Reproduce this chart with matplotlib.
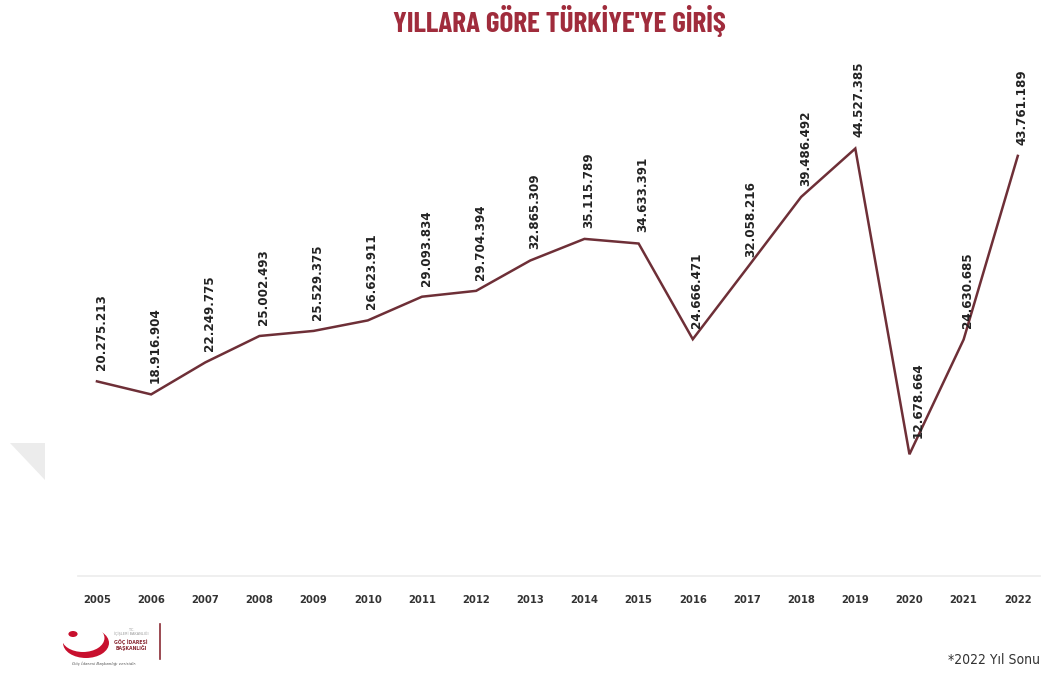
import matplotlib.pyplot as plt
from matplotlib.patches import Polygon, Circle

yillar = ['2005', '2006', '2007', '2008', '2009', '2010', '2011', '2012', '2013',
          '2014', '2015', '2016', '2017', '2018', '2019', '2020', '2021', '2022']
girisler = [20275213, 18916904, 22249775, 25002493, 25529375, 26623911, 29093834,
            29704394, 32865309, 35115789, 34633391, 24666471, 32058216, 39486492,
            44527385, 12678664, 24630685, 43761189]
etiketler = ['20.275.213', '18.916.904', '22.249.775', '25.002.493', '25.529.375',
             '26.623.911', '29.093.834', '29.704.394', '32.865.309', '35.115.789',
             '34.633.391', '24.666.471', '32.058.216', '39.486.492', '44.527.385',
             '12.678.664', '24.630.685', '43.761.189']

W, H = 1044, 681
fig = plt.figure(figsize=(W / 100, H / 100), dpi=100)
fig.patch.set_facecolor('white')

# eksen alanı: piksel değerlerinden
ax = fig.add_axes([78 / W, (H - 576) / H, (1040 - 78) / W, (576 - 60) / H])
x = list(range(len(yillar)))
ax.plot(x, girisler, color='#6e2f37', linewidth=1.8, solid_joinstyle='miter')
ax.set_xlim(-0.35, 17.41)
ax.set_ylim(0, 53.75e6)

for i, (v, e) in enumerate(zip(girisler, etiketler)):
    dx = 6 if i == 15 else 3
    dy = 12 if i == 15 else 8
    ax.annotate(e, (i, v), xytext=(dx, dy), textcoords='offset points',
                rotation=90, ha='center', va='bottom', fontsize=9.5,
                fontweight='bold', color='#222222', fontstretch='condensed')

ax.set_xticks(x)
ax.set_xticklabels(yillar, fontsize=8, fontweight='bold', color='#333333',
                   fontstretch='condensed')
ax.tick_params(axis='x', length=0, pad=14)
ax.set_yticks([])
for s in ['top', 'left', 'right']:
    ax.spines[s].set_visible(False)
ax.spines['bottom'].set_color('#ececec')
ax.spines['bottom'].set_linewidth(1.2)

fig.text(559 / W, 1 - 21 / H, "YILLARA GÖRE TÜRKİYE'YE GİRİŞ", ha='center', va='center',
         fontsize=21, fontweight='bold', color='#a02c3c',
         family=['Barlow Condensed', 'DejaVu Sans'], fontstretch='condensed')

fig.text(1040 / W, 1 - 660 / H, '*2022 Yıl Sonu', ha='right', va='center',
         fontsize=10, color='#333333', fontstretch='condensed')

# sol kenardaki gri üçgen
fig.patches.append(Polygon([(10 / W, 1 - 443 / H), (45 / W, 1 - 443 / H), (45 / W, 1 - 480 / H)],
                           closed=True, transform=fig.transFigure, facecolor='#ececec',
                           edgecolor='none'))

# logo (kabaca)
fig.patches.append(Circle((86 / W, 1 - 643 / H), 15 / H, transform=fig.transFigure,
                          facecolor='#c8102e', edgecolor='none'))
fig.patches.append(Circle((83 / W, 1 - 638 / H), 14 / H, transform=fig.transFigure,
                          facecolor='white', edgecolor='none'))
fig.patches.append(Circle((73 / W, 1 - 634 / H), 3 / H, transform=fig.transFigure,
                          facecolor='#c8102e', edgecolor='none'))
fig.text(131 / W, 1 - 632 / H, 'T.C.\nİÇİŞLERİ BAKANLIĞI', fontsize=2.5, color='#999999',
         ha='center', va='center', linespacing=1.0)
fig.text(131 / W, 1 - 645 / H, 'GÖÇ İDARESİ\nBAŞKANLIĞI', fontsize=3.3, color='#8a2b35',
         ha='center', va='center', fontweight='bold', linespacing=1.1)
fig.text(72 / W, 1 - 664 / H, 'Göç İdaresi Başkanlığı verisidir.', fontsize=3, color='#555555',
         ha='left', va='center', style='italic')
fig.add_artist(plt.Line2D([160 / W, 160 / W], [1 - 624 / H, 1 - 659 / H],
                          transform=fig.transFigure, color='#8a2b35', linewidth=1.2))

fig.savefig('out.png', dpi=100, facecolor='white')
